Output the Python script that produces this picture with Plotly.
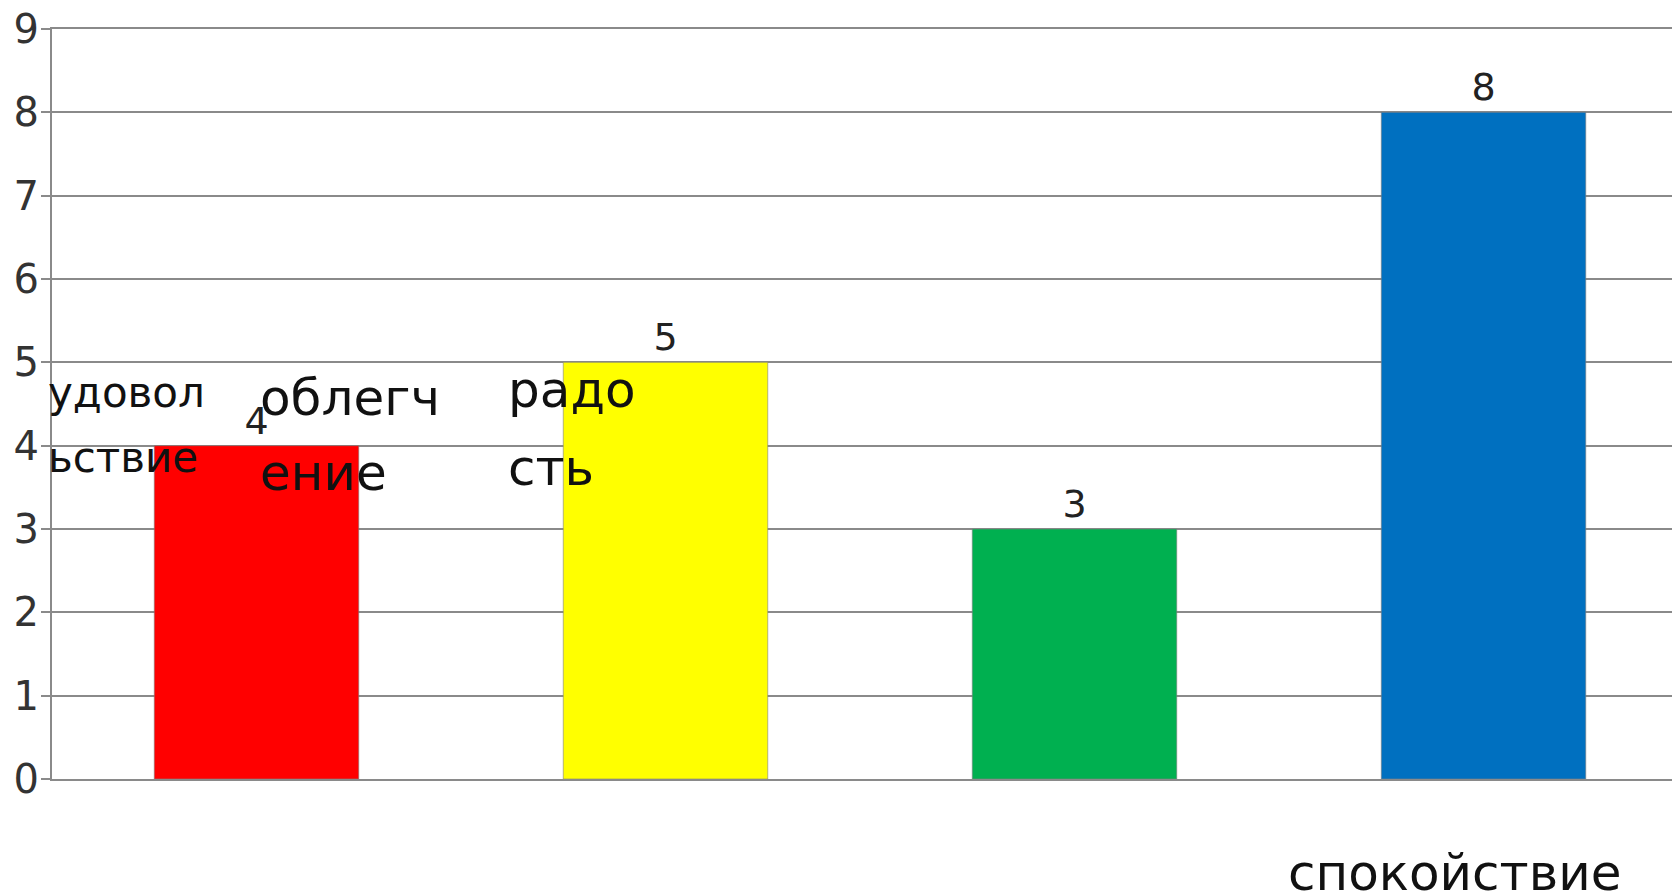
import plotly.graph_objects as go

# ---- data ----
categories = ["удовольствие", "облегчение", "радость", "спокойствие"]
values = [4, 5, 3, 8]
bar_colors = ["#FF0000", "#FFFF00", "#00B050", "#0070C0"]
y_ticks = [0, 1, 2, 3, 4, 5, 6, 7, 8, 9]

# label fragments as they appear (broken words) in the original (page pixels)
label_lines = [
    ("удовол", 46, 393, 42),
    ("ьствие", 46, 457, 42),
    ("облегч", 258, 398, 50),
    ("ение", 258, 473, 50),
    ("радо", 506, 390, 50),
    ("сть", 506, 468, 50),
    ("спокойствие", 1454, 873, 50),
]

# page body has an 8px margin; the figure is sized so it fills the window
OFF = 8
W, H = 1680 - OFF, 895 - OFF
L, R, T, B = 52 - OFF, 0, 29 - OFF, 895 - 779
pw, ph = W - L - R, H - T - B


def px(x):
    return (x - OFF - L) / pw


def py(y):
    return (H - B - (y - OFF)) / ph


FONT = "DejaVu Sans"

fig = go.Figure()
fig.add_trace(go.Bar(
    x=list(range(len(categories))),
    y=values,
    width=0.5,
    marker=dict(color=bar_colors, line=dict(color="rgba(128,128,128,0.6)", width=1)),
    text=[str(v) for v in values],
    textposition="outside",
    textfont=dict(family=FONT, size=38, color="#222"),
    cliponaxis=False,
    hoverinfo="skip",
))

annotations = []
for txt, x, y, size in label_lines:
    xanchor = "center" if txt == "спокойствие" else "left"
    annotations.append(dict(
        text=txt, x=px(x), y=py(y), xref="paper", yref="paper",
        xanchor=xanchor, yanchor="middle", showarrow=False,
        font=dict(family=FONT, size=size, color="#111"),
    ))

fig.update_layout(
    width=W, height=H,
    margin=dict(l=L, r=R, t=T, b=B, autoexpand=False),
    paper_bgcolor="white", plot_bgcolor="white",
    showlegend=False,
    annotations=annotations,
    xaxis=dict(
        range=[-0.5, 3.5 - 8 / 408], showticklabels=False, showgrid=False, zeroline=False,
        showline=True, mirror=True, linecolor="#8a8a8a", linewidth=2, ticks="", automargin=False,
    ),
    yaxis=dict(
        range=[0, 9], tickvals=y_ticks, ticktext=[str(t) for t in y_ticks],
        showgrid=True, gridcolor="#8a8a8a", gridwidth=2,
        zeroline=False, showline=True, linecolor="#8a8a8a", linewidth=2,
        ticks="outside", ticklen=9, tickcolor="#8a8a8a", tickwidth=2,
        ticklabelstandoff=-6, ticklabeloverflow="allow",
        tickfont=dict(family=FONT, size=40, color="#333"), automargin=False,
    ),
)

fig.write_html("out.html")
